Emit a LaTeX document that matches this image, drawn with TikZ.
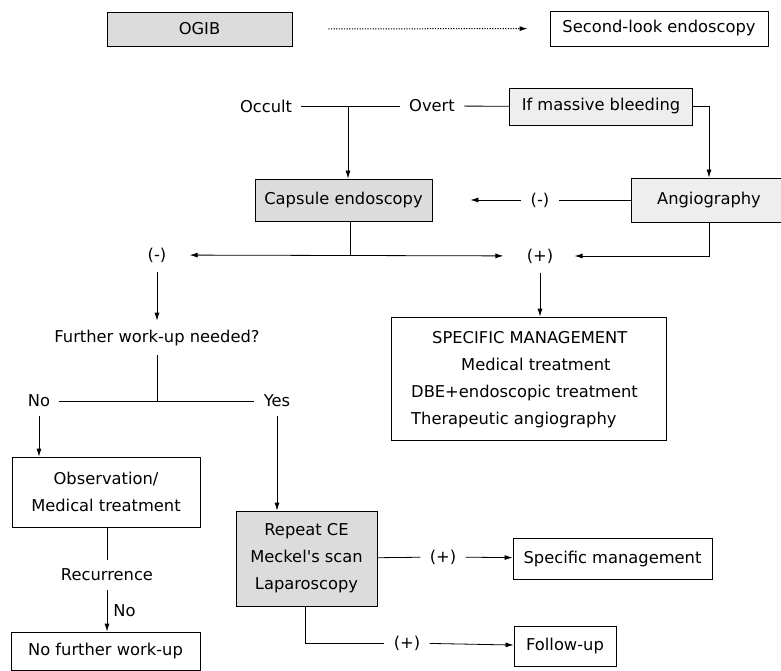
\documentclass[tikz,border=0pt]{standalone}
\usepackage{fontspec}
\setmainfont{DejaVu Sans}
\usetikzlibrary{arrows.meta}
\definecolor{darkfill}{HTML}{DCDCDC}
\definecolor{lightfill}{HTML}{EEEEEE}

\begin{document}
\begin{tikzpicture}[x=1pt,y=-1pt,font=\fontsize{16.3}{27}\selectfont,
  >={Latex[length=8pt,width=5pt]}, line width=0.8pt]
  \tikzstyle{box} = [rectangle, draw, inner sep=0pt, align=center]
  \tikzstyle{grey} = [box, fill=darkfill]
  \tikzstyle{light} = [box, fill=lightfill]
  \tikzstyle{lbl} = [inner sep=9pt]
\useasboundingbox (0,0) rectangle (781,671);
% top row
\node[grey, minimum width=185pt, minimum height=34pt] (ogib) at (199.5,29) {OGIB};
\node[box, minimum width=218pt, minimum height=35pt] (second) at (659,28.5) {Second-look endoscopy};
% occult / overt
\node[lbl] (occult) at (266,106) {Occult};
\node[lbl] (overt) at (432,106) {Overt};
\node[light, minimum width=183pt, minimum height=37pt] (massive) at (601,106.5) {If massive bleeding};
\node[grey, minimum width=177pt, minimum height=42pt] (capsule) at (343.5,200) {Capsule endoscopy};
\node[light, minimum width=156pt, minimum height=44pt] (angio) at (709,200) {Angiography};
\node[lbl] (neg1) at (540,200) {(-)};
\node[lbl] (neg2) at (157,255) {(-)};
\node[lbl] (pos1) at (540,256) {(+)};
\coordinate (split1) at (348,106);
\coordinate (split2) at (350,256);
% left branch
\node[lbl] (further) at (157,338) {Further work-up needed?};
\node[lbl] (no1) at (39,401) {No};
\node[lbl] (yes1) at (277,401) {Yes};
\coordinate (split3) at (157,401);
\node[box, minimum width=188pt, minimum height=70pt] (obs) at (106,492) {Observation/\\Medical treatment};
\node[lbl] (recur) at (107,575) {Recurrence};
\node[box, minimum width=189pt, minimum height=38pt] (nfw) at (105.5,651) {No further work-up};
\node[grey, minimum width=141pt, minimum height=95pt] (repeat) at (306.5,558.5) {Repeat CE\\Meckel\textquotesingle s scan\\Laparoscopy};
\node[lbl] (pos2) at (443,557) {(+)};
\node[box, minimum width=199pt, minimum height=41pt] (spec2) at (612.5,558.5) {Specific management};
\node[lbl] (pos3) at (407,643) {(+)};
\node[box, minimum width=102pt, minimum height=40pt] (follow) at (565,646) {Follow-up};
\coordinate (split4) at (305,643);
% specific management
\node[box, minimum width=275pt, minimum height=123pt] (spec1) at (528.5,378.5)
  {\begin{tabular}{@{}l@{\hspace{8pt}}}\hspace{21pt}SPECIFIC MANAGEMENT\\\hspace{50pt}Medical treatment\\DBE+endoscopic treatment\\Therapeutic angiography\end{tabular}};
% connectors
\draw[->,line width=1pt,dash pattern=on 1.2pt off 1.4pt,shorten <=36pt,shorten >=22pt] (ogib) -- (second);
\draw (occult) -- (overt);
\draw[->] (split1) -- (split1 |- capsule.north);
\draw (overt) -- (massive);
\draw[->] (massive) -| (angio);
\draw (angio) -- (neg1);
\draw[->,shorten >=38pt] (neg1) -- (capsule);
\draw (capsule.south -| split2) -- (split2);
\draw[<->,shorten <=14pt,shorten >=14pt] (neg2) -- (pos1);
\draw[->,shorten >=12pt] (angio.south) |- (pos1);
\draw[->] (neg2) -- (further);
\draw[->] (pos1) -- (pos1 |- spec1.north);
\draw (further) -- (split3);
\draw (no1) -- (yes1);
\draw[->] (no1) -- (no1 |- obs.north);
\draw[->] (yes1) -- (yes1 |- repeat.north);
\draw (obs.south -| recur) -- (recur);
\draw[->] (recur) -- node[right, inner sep=6pt]{No} (recur |- nfw.north);
\draw (repeat) -- (pos2);
\draw[->] (pos2) -- (spec2);
\draw (split4 |- repeat.south) -- (split4) -- (pos3);
\draw[->] (pos3) -- (follow);
\end{tikzpicture}
\end{document}
